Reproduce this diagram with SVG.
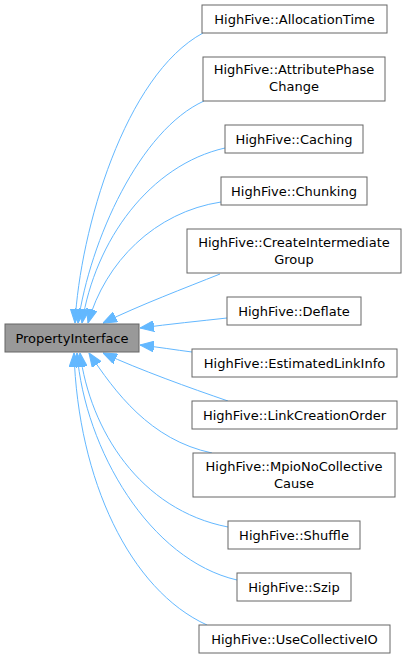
<svg xmlns="http://www.w3.org/2000/svg" width="406" height="658" viewBox="0 0 406 658">
<style>
.n rect{fill:#ffffff;stroke:#666666;stroke-width:1}
.p rect{fill:#999999;stroke:#666666;stroke-width:1}
text{font-family:"DejaVu Sans","Liberation Sans",sans-serif;font-size:13px;fill:#000000;text-anchor:middle}
.e path{fill:none;stroke:#63b8ff;stroke-width:1;marker-start:url(#ah)}
</style>
<defs>
<marker id="ah" markerUnits="userSpaceOnUse" markerWidth="14" markerHeight="11" viewBox="0 0 13 10" refX="13" refY="5" orient="auto-start-reverse">
<path d="M0,0 L13,5 L0,10 Z" fill="#63b8ff" stroke="#63b8ff" stroke-width="1"/>
</marker>
</defs>
<rect width="406" height="658" fill="#ffffff"/>
<g id="edges" class="e">
<path d="M75,323 C80,230 125,75 203,33"/>
<path d="M78,323 C90,240 140,130 204,101"/>
<path d="M82,323 C95,240 150,165 225,148"/>
<path d="M88,323 C105,262 155,212 221,202"/>
<path d="M103,323 C140,305 185,288 220,274"/>
<path d="M140,328 C170,324 200,321 227,318"/>
<path d="M140,345 C158,347 176,350 192,352"/>
<path d="M103,353 C140,370 190,388 228,401"/>
<path d="M89,353 C115,392 150,440 212,453"/>
<path d="M80,353 C90,430 140,510 228,527"/>
<path d="M77,353 C85,450 150,560 237,580"/>
<path d="M74,353 C78,480 130,590 207,625"/>
</g>
<g id="PropertyInterface" class="p"><rect x="5" y="324" width="134" height="28"/><text x="72" y="342.5">PropertyInterface</text></g>
<g id="AllocationTime" class="n"><rect x="202" y="5" width="185" height="28"/><text x="294.5" y="23.5">HighFive::AllocationTime</text></g>
<g id="AttributePhaseChange" class="n"><rect x="203" y="57" width="182" height="44"/><text x="294" y="74">HighFive::AttributePhase</text><text x="294" y="91">Change</text></g>
<g id="Caching" class="n"><rect x="225" y="125" width="138" height="28"/><text x="294" y="143.5">HighFive::Caching</text></g>
<g id="Chunking" class="n"><rect x="221" y="177" width="146" height="28"/><text x="294" y="195.5">HighFive::Chunking</text></g>
<g id="CreateIntermediateGroup" class="n"><rect x="187" y="229" width="214" height="44"/><text x="294" y="247">HighFive::CreateIntermediate</text><text x="294" y="264">Group</text></g>
<g id="Deflate" class="n"><rect x="227" y="297" width="134" height="28"/><text x="294" y="315.5">HighFive::Deflate</text></g>
<g id="EstimatedLinkInfo" class="n"><rect x="192" y="349" width="205" height="28"/><text x="294.5" y="367.5">HighFive::EstimatedLinkInfo</text></g>
<g id="LinkCreationOrder" class="n"><rect x="192" y="401" width="205" height="28"/><text x="294.5" y="419.5">HighFive::LinkCreationOrder</text></g>
<g id="MpioNoCollectiveCause" class="n"><rect x="193" y="453" width="202" height="44"/><text x="294" y="471">HighFive::MpioNoCollective</text><text x="294" y="488">Cause</text></g>
<g id="Shuffle" class="n"><rect x="228" y="521" width="132" height="28"/><text x="294" y="539.5">HighFive::Shuffle</text></g>
<g id="Szip" class="n"><rect x="237" y="573" width="114" height="28"/><text x="294" y="591.5">HighFive::Szip</text></g>
<g id="UseCollectiveIO" class="n"><rect x="199" y="625" width="191" height="28"/><text x="294.5" y="643.5">HighFive::UseCollectiveIO</text></g>
</svg>
